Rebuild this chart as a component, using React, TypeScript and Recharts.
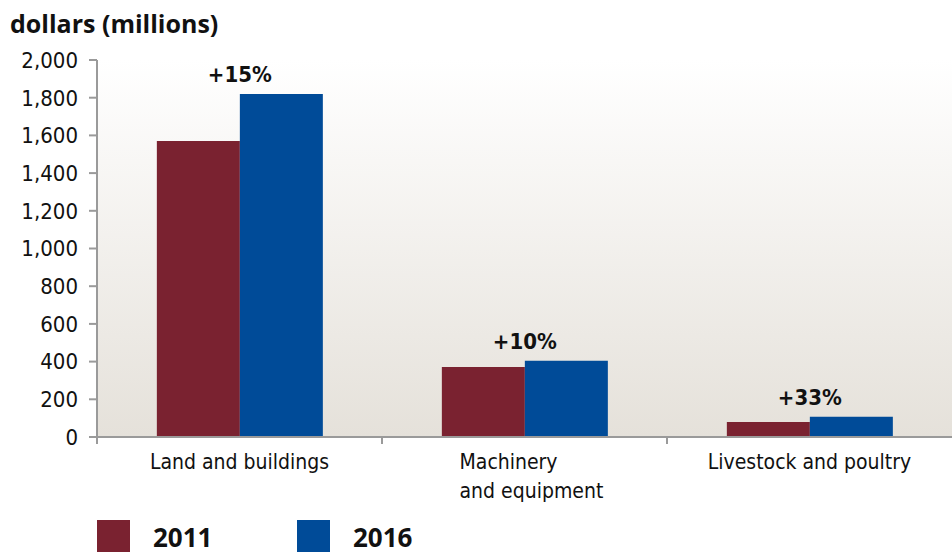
import { BarChart, Bar, XAxis, YAxis, CartesianGrid, LabelList } from "recharts";

const categories = ["Land and buildings", "Machinery\nand equipment", "Livestock and poultry"];
const values2011 = [1570, 372, 79];
const values2016 = [1820, 405, 107];
const changeLabels = ["+15%", "+10%", "+33%"];
const yTicks = [0, 200, 400, 600, 800, 1000, 1200, 1400, 1600, 1800, 2000];

const data = categories.map((c, i) => ({
  category: c,
  y2011: values2011[i],
  y2016: values2016[i],
  change: changeLabels[i],
}));

const narrow = "'Liberation Sans Narrow', 'DejaVu Sans Condensed', 'Arial Narrow', sans-serif";
const MAROON = "#7a2230";
const BLUE = "#004b98";

function CategoryTick(props: any) {
  const { x, y, payload } = props;
  const lines: string[] = String(payload.value).split("\n");
  const half = payload.offset ?? 142;
  const multi = lines.length > 1;
  const longest = Math.max(...lines.map((l) => l.length));
  const tx = multi ? x - longest * 5 : x;
  return (
    <g>
      <line x1={x - half} x2={x - half} y1={y} y2={y + 7} stroke="#9a9a9a" strokeWidth={2} />
      <text x={tx} y={y + 32} textAnchor={multi ? "start" : "middle"} fontFamily={narrow} fontSize={21} fill="#111">
        {lines.map((l, i) => (
          <tspan key={i} x={tx} dy={i === 0 ? 0 : 29}>
            {l}
          </tspan>
        ))}
      </text>
    </g>
  );
}

function ChangeLabel(props: any) {
  const { x, y, value } = props;
  return (
    <text x={x} y={y - 12} textAnchor="middle" fontFamily={narrow} fontWeight="bold" fontSize={22} fill="#111">
      {value}
    </text>
  );
}

export default function App() {
  return (
    <div style={{ position: "absolute", left: 0, top: 0, width: 952, height: 552, background: "#fff" }}>
      <BarChart
        width={952}
        height={552}
        data={data}
        margin={{ top: 60, right: 0, left: 0, bottom: 85 }}
        barCategoryGap="21%"
        barGap={0}
      >
        <defs>
          <linearGradient id="bg" x1="0" y1="0" x2="0" y2="1">
            <stop offset="0%" stopColor="#ffffff" />
            <stop offset="100%" stopColor="#e5e1da" />
          </linearGradient>
        </defs>
        <CartesianGrid horizontal={false} vertical={false} fill="url(#bg)" stroke="none" />
        <XAxis
          dataKey="category"
          height={30}
          tickLine={false}
          tickSize={0}
          tickMargin={0}
          axisLine={{ stroke: "#9a9a9a", strokeWidth: 2 }}
          tick={<CategoryTick />}
          interval={0}
        />
        <YAxis
          width={97}
          domain={[0, 2000]}
          ticks={yTicks}
          interval={0}
          tickSize={8}
          tickMargin={11}
          tickFormatter={(v: number) => v.toLocaleString("en-US")}
          axisLine={{ stroke: "#9a9a9a", strokeWidth: 2 }}
          tickLine={{ stroke: "#9a9a9a", strokeWidth: 2 }}
          tick={{ fontFamily: narrow, fontSize: 22, fill: "#111" }}
        />
        <Bar dataKey="y2011" fill={MAROON} isAnimationActive={false} />
        <Bar dataKey="y2016" fill={BLUE} isAnimationActive={false}>
          <LabelList dataKey="change" content={<ChangeLabel />} />
        </Bar>
      </BarChart>
      <svg width={952} height={552} style={{ position: "absolute", left: 0, top: 0, pointerEvents: "none" }}>
        <text x={10} y={33} fontFamily="'Open Sans', sans-serif" fontWeight="bold" fontSize={25} fill="#111">
          dollars (millions)
        </text>
        <rect x={97} y={520} width={33} height={33} fill={MAROON} />
        <text x={153} y={547} fontFamily="'Open Sans', sans-serif" fontWeight="bold" fontSize={26} fill="#111">
          2011
        </text>
        <rect x={297} y={520} width={33} height={33} fill={BLUE} />
        <text x={353} y={547} fontFamily="'Open Sans', sans-serif" fontWeight="bold" fontSize={26} fill="#111">
          2016
        </text>
      </svg>
    </div>
  );
}
